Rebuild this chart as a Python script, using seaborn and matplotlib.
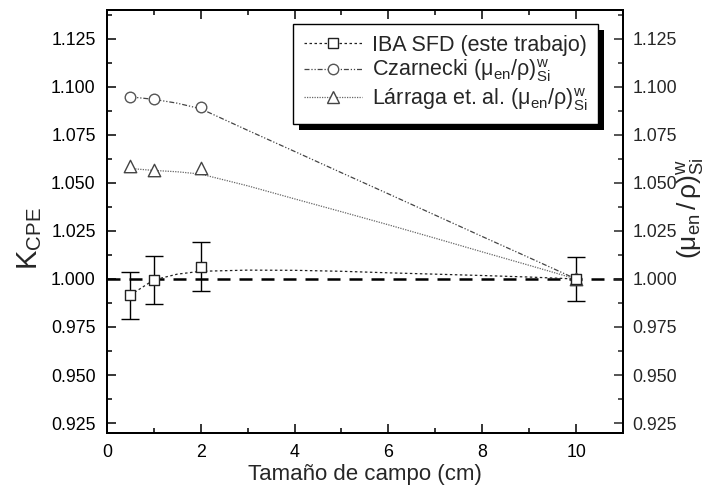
import numpy as np
import pandas as pd
import seaborn as sns
import matplotlib
matplotlib.use("Agg")
import matplotlib.pyplot as plt
from matplotlib.lines import Line2D
from matplotlib.patches import Rectangle
from matplotlib.ticker import MultipleLocator, FormatStrFormatter

# ---------------- data ----------------
field_size = [0.5, 1, 2, 10]
kcpe_iba = [0.9916, 0.9995, 1.0064, 1.000]
kcpe_err = [0.0122, 0.0125, 0.0127, 0.0115]
ratio_czarnecki = [1.0948, 1.0936, 1.0896, 1.000]
ratio_larraga = [1.0587, 1.0565, 1.0577, 1.000]

# trend curves drawn in the reference
trend_x = [0.5, 1, 1.5, 2, 3, 4, 5, 6, 7, 8, 9, 10]
trend_iba = [0.9916, 0.9995, 1.0025, 1.0040, 1.0046, 1.0045, 1.0040, 1.0032, 1.0025, 1.0018, 1.0010, 1.000]
trend_czarnecki = [1.0948, 1.0935, 1.0915, 1.0886, 1.0774, 1.0664, 1.0553, 1.0443, 1.0332, 1.0221, 1.0111, 1.000]
trend_larraga = [1.0575, 1.0565, 1.0558, 1.0546, 1.0485, 1.0417, 1.0350, 1.0282, 1.0212, 1.0141, 1.0071, 1.000]

labels = ["IBA SFD (este trabajo)",
          r"Czarnecki $(\mathrm{μ}_{\mathrm{en}}/\mathrm{ρ})^{\mathrm{w}}_{\mathrm{Si}}$",
          r"Lárraga et. al. $(\mathrm{μ}_{\mathrm{en}}/\mathrm{ρ})^{\mathrm{w}}_{\mathrm{Si}}$"]
xlabel = "Tamaño de campo (cm)"
ylabel_left = r"$\mathrm{K}_{\mathrm{CPE}}$"
ylabel_right = r"$(\mathrm{μ}_{\mathrm{en}}\,/\,\mathrm{ρ})^{\mathrm{w}}_{\mathrm{Si}}$"

# ---------------- style ----------------
sns.set_theme(style="ticks")
plt.rcParams["font.family"] = ["Liberation Sans", "DejaVu Sans"]
plt.rcParams["mathtext.fontset"] = "custom"
plt.rcParams["mathtext.rm"] = "Liberation Sans"
plt.rcParams["mathtext.it"] = "Liberation Sans:italic"
plt.rcParams["mathtext.bf"] = "Liberation Sans:bold"
plt.rcParams["axes.linewidth"] = 1.4
plt.rcParams["axes.edgecolor"] = "black"

fig = plt.figure(figsize=(7.12, 4.88), dpi=100)
ax = fig.add_axes([0.150, 0.1134, 0.725, 0.8661])

ls_iba = (0, (2, 2))
ls_cz = (0, (4, 1.5, 1, 1.5, 1, 1.5))
ls_la = (0, (1, 1))
c_iba, c_cz, c_la = "#222222", "#444444", "#666666"

# dashed reference line at 1.000
ax.axhline(1.000, color="black", lw=1.8, linestyle=(0, (5.2, 3.6)), zorder=1)

# trend curves
sns.lineplot(x=trend_x, y=trend_iba, ax=ax, color=c_iba, lw=0.9, linestyle=ls_iba, zorder=2)
sns.lineplot(x=trend_x, y=trend_czarnecki, ax=ax, color=c_cz, lw=0.9, linestyle=ls_cz, zorder=2)
sns.lineplot(x=trend_x, y=trend_larraga, ax=ax, color=c_la, lw=0.9, linestyle=ls_la, zorder=2)

# error bars
ax.errorbar(field_size, kcpe_iba, yerr=kcpe_err, fmt="none", ecolor="black",
            elinewidth=1.0, capsize=6.5, capthick=1.0, zorder=3)

# markers
sns.scatterplot(x=field_size, y=ratio_czarnecki, ax=ax, marker="o", s=58,
                facecolor="white", edgecolor="#555555", linewidth=1.0, zorder=4)
sns.scatterplot(x=field_size, y=ratio_larraga, ax=ax, marker="^", s=80,
                facecolor="white", edgecolor="#444444", linewidth=1.0, zorder=4)
sns.scatterplot(x=field_size, y=kcpe_iba, ax=ax, marker="s", s=56,
                facecolor="white", edgecolor="#222222", linewidth=1.0, zorder=5)

# axes
ax.set_xlim(0, 11)
ax.set_ylim(0.92, 1.14)
ax.xaxis.set_major_locator(MultipleLocator(2))
ax.xaxis.set_minor_locator(MultipleLocator(1))
ax.yaxis.set_major_locator(MultipleLocator(0.025))
ax.yaxis.set_minor_locator(MultipleLocator(0.0125))
ax.yaxis.set_major_formatter(FormatStrFormatter("%.3f"))
ax.set_yticks(np.arange(0.925, 1.1251, 0.025))
ax.tick_params(which="both", direction="in", top=True, right=False, width=1.1, colors="black",
               labelsize=12.8)
ax.tick_params(which="major", length=6.3)
ax.tick_params(which="minor", length=3.6)
ax.tick_params(axis="x", pad=8)
ax.tick_params(axis="y", pad=8)

ax2 = ax.twinx()
ax2.set_ylim(ax.get_ylim())
ax2.set_yticks(np.arange(0.925, 1.1251, 0.025))
ax2.yaxis.set_minor_locator(MultipleLocator(0.0125))
ax2.yaxis.set_major_formatter(FormatStrFormatter("%.3f"))
ax2.tick_params(which="both", direction="in", width=1.1, labelsize=12.8, pad=7)
ax2.tick_params(which="major", length=6.3)
ax2.tick_params(which="minor", length=3.6)
for sp in ax2.spines.values():
    sp.set_linewidth(1.4)

ax.set_xlabel(xlabel, fontsize=16)
ax.xaxis.set_label_coords(0.5, -0.075)
ax.set_ylabel(ylabel_left, fontsize=21)
ax.yaxis.set_label_coords(-0.122, 0.458)
ax2.set_ylabel(ylabel_right, fontsize=19)
ax2.yaxis.set_label_coords(1.101, 0.53)

# legend
handles = [
    Line2D([], [], color=c_iba, lw=0.9, linestyle=ls_iba, marker="s", ms=7.5,
           mfc="white", mec="#222222"),
    Line2D([], [], color=c_cz, lw=0.9, linestyle=ls_cz, marker="o", ms=7.5,
           mfc="white", mec="#555555"),
    Line2D([], [], color=c_la, lw=0.9, linestyle=ls_la, marker="^", ms=8.5,
           mfc="white", mec="#444444"),
]
leg = ax.legend(handles, labels, loc="upper right", bbox_to_anchor=(0.9516, 0.967),
                borderaxespad=0, fontsize=15.5, frameon=True, fancybox=False,
                edgecolor="black", framealpha=1, handlelength=2.7, handletextpad=0.45,
                borderpad=0.5, labelspacing=0.08)
leg.get_frame().set_linewidth(1.0)
leg.set_zorder(10)

fig.canvas.draw()
bb = leg.get_window_extent().transformed(ax.transAxes.inverted())
dx = 6 / (ax.bbox.width)
dy = 6 / (ax.bbox.height)
shadow = Rectangle((bb.x0 + dx, bb.y0 - dy), bb.width, bb.height, transform=ax.transAxes,
                   facecolor="black", edgecolor="none", zorder=9, clip_on=False)
ax.add_patch(shadow)

fig.savefig("out.png", dpi=100)
